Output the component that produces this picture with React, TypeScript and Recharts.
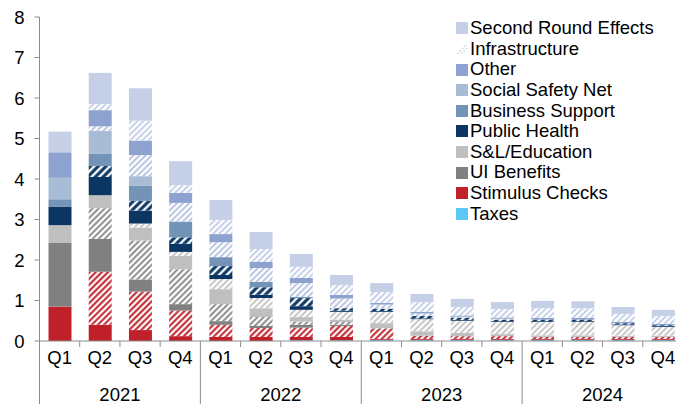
import React from 'react';
import { BarChart, Bar, XAxis, YAxis } from 'recharts';

const quarters = ['Q1', 'Q2', 'Q3', 'Q4', 'Q1', 'Q2', 'Q3', 'Q4', 'Q1', 'Q2', 'Q3', 'Q4', 'Q1', 'Q2', 'Q3', 'Q4'];
const years = ['2021', '2021', '2021', '2021', '2022', '2022', '2022', '2022', '2023', '2023', '2023', '2023', '2024', '2024', '2024', '2024'];
const yTicks = [0, 1, 2, 3, 4, 5, 6, 7, 8];

const taxes = [0, 0, 0, 0, 0, 0, 0.02, 0.02, 0.03, 0.03, 0.03, 0.03, 0.03, 0.03, 0.03, 0.03];
const stimulusChecks = [0.85, 0.4, 0.27, 0.12, 0.1, 0.1, 0.08, 0.08, 0.02, 0.02, 0.02, 0.02, 0.02, 0.02, 0.02, 0.02];
const stimulusChecksNew = [0, 1.31, 0.95, 0.63, 0.3, 0.22, 0.23, 0.27, 0.25, 0.08, 0.07, 0.07, 0.05, 0.05, 0.05, 0.05];
const uiBenefits = [1.58, 0.81, 0.3, 0.16, 0.09, 0.05, 0.07, 0.03, 0, 0, 0, 0, 0, 0, 0, 0];
const uiBenefitsNew = [0, 0.76, 0.96, 0.86, 0.42, 0.22, 0.08, 0.07, 0.02, 0, 0, 0, 0, 0, 0, 0];
const slEducation = [0.43, 0.32, 0.32, 0.33, 0.37, 0.22, 0.11, 0.06, 0.12, 0.11, 0.08, 0.05, 0.04, 0.04, 0.03, 0.03];
const slEducationNew = [0, 0, 0.1, 0.1, 0.25, 0.25, 0.18, 0.19, 0.28, 0.3, 0.3, 0.3, 0.33, 0.33, 0.26, 0.22];
const publicHealth = [0.46, 0.45, 0.32, 0.2, 0.1, 0.08, 0.09, 0.03, 0.02, 0.02, 0.02, 0.02, 0.02, 0.02, 0.02, 0.02];
const publicHealthNew = [0, 0.27, 0.24, 0.16, 0.22, 0.19, 0.2, 0.06, 0.06, 0.06, 0.06, 0.04, 0.04, 0.04, 0.03, 0.02];
const businessSupport = [0.18, 0.3, 0.37, 0.39, 0.22, 0.13, 0.03, 0, 0, 0, 0, 0, 0, 0, 0, 0];
const socialSafetyNet = [0.53, 0.57, 0.24, 0, 0, 0, 0, 0, 0, 0, 0, 0, 0, 0, 0, 0];
const socialSafetyNetNew = [0, 0.11, 0.52, 0.46, 0.37, 0.34, 0.34, 0.24, 0.1, 0.06, 0.02, 0.02, 0, 0, 0, 0];
const other = [0.63, 0.4, 0.36, 0.25, 0.2, 0.15, 0.13, 0.09, 0.04, 0.04, 0.03, 0.03, 0.04, 0.04, 0.03, 0.03];
const infrastructure = [0, 0.15, 0.49, 0.19, 0.35, 0.32, 0.27, 0.24, 0.27, 0.24, 0.21, 0.21, 0.24, 0.24, 0.2, 0.2];
const secondRound = [0.51, 0.77, 0.8, 0.59, 0.49, 0.42, 0.32, 0.25, 0.22, 0.2, 0.2, 0.17, 0.18, 0.17, 0.17, 0.15];

const rows = quarters.map((q, i) => ({
  q,
  year: years[i],
  taxes: taxes[i],
  stimulusChecks: stimulusChecks[i],
  stimulusChecksNew: stimulusChecksNew[i],
  uiBenefits: uiBenefits[i],
  uiBenefitsNew: uiBenefitsNew[i],
  slEducation: slEducation[i],
  slEducationNew: slEducationNew[i],
  publicHealth: publicHealth[i],
  publicHealthNew: publicHealthNew[i],
  businessSupport: businessSupport[i],
  socialSafetyNet: socialSafetyNet[i],
  socialSafetyNetNew: socialSafetyNetNew[i],
  other: other[i],
  infrastructure: infrastructure[i],
  secondRound: secondRound[i],
}));

const C = {
  sre: '#C5D0E6',
  other: '#8EA2CF',
  ssn: '#A9BCD5',
  bs: '#7393B7',
  ph: '#0B3562',
  sl: '#BFBFBF',
  ui: '#808080',
  checks: '#C0202A',
  taxes: '#5BC8F5',
  hatchBlue: '#A9B8DA',
};

const FONT = '"Liberation Sans", Arial, sans-serif';
const FS = 18.5;
const AXIS = '#8C8C8C';

const legendItems = [
  { name: 'Second Round Effects', color: C.sre },
  { name: 'Infrastructure', color: 'hatch' },
  { name: 'Other', color: C.other },
  { name: 'Social Safety Net', color: C.ssn },
  { name: 'Business Support', color: C.bs },
  { name: 'Public Health', color: C.ph },
  { name: 'S&L/Education', color: C.sl },
  { name: 'UI Benefits', color: C.ui },
  { name: 'Stimulus Checks', color: C.checks },
  { name: 'Taxes', color: C.taxes },
];

const QTick = (props: any) => {
  const { x, y, payload, index } = props;
  const half = (payload && payload.offset) || 20.1;
  const q = quarters[index];
  return (
    <g>
      <line x1={x - half} x2={x - half} y1={y} y2={q === 'Q1' ? y + 63 : y + 6} stroke={AXIS} strokeWidth={1} />
      {index === quarters.length - 1 && (
        <line x1={x + half} x2={x + half} y1={y} y2={y + 63} stroke={AXIS} strokeWidth={1} />
      )}
      <text x={x} y={y + 23} textAnchor="middle" fontSize={FS} fontFamily={FONT} fill="#000">
        {q}
      </text>
      {q === 'Q3' && (
        <text x={x - half} y={y + 59.5} textAnchor="middle" fontSize={FS} fontFamily={FONT} fill="#000">
          {years[index]}
        </text>
      )}
    </g>
  );
};

const YTick = (props: any) => {
  const { x, y, payload } = props;
  return (
    <text x={x} y={y} dy={6.5} textAnchor="end" fontSize={FS} fontFamily={FONT} fill="#000">
      {payload.value}
    </text>
  );
};

const hatch = (id: string, color: string, bg: string, period: number, sw: number) => (
  <pattern id={id} patternUnits="userSpaceOnUse" width={period} height={period} patternTransform="rotate(45)">
    <rect width={period} height={period} fill={bg} />
    <line x1={period / 2} y1={0} x2={period / 2} y2={period} stroke={color} strokeWidth={sw} />
  </pattern>
);

export default function App() {
  return (
    <div style={{ position: 'fixed', left: 0, top: 0, width: 676, height: 404, overflow: 'hidden', background: '#fff' }}>
      <BarChart width={690} height={404} data={rows} margin={{ top: 17, right: 7, bottom: 0, left: 0 }} barSize={23}>
        <defs>
          {hatch('hRed', C.checks, '#fff', 4.3, 2)}
          {hatch('hGrey', '#808080', '#fff', 4.3, 1.8)}
          {hatch('hLGrey', '#BFBFBF', '#fff', 4.3, 1.8)}
          {hatch('hNavy', '#fff', C.ph, 5.5, 2.4)}
          {hatch('hBlue', C.hatchBlue, '#fff', 4.3, 1.6)}
          {hatch('hBlue2', '#B9C6E2', '#fff', 4.3, 1.6)}
        </defs>
        <XAxis
          dataKey="q"
          height={63}
          interval={0}
          tickLine={false}
          tickSize={0}
          tickMargin={0}
          tick={<QTick />}
          axisLine={{ stroke: AXIS }}
        />
        <YAxis
          width={39.5}
          domain={[0, 8]}
          ticks={yTicks}
          interval={0}
          tickSize={5}
          tickMargin={10}
          tickLine={{ stroke: AXIS }}
          axisLine={{ stroke: AXIS }}
          tick={<YTick />}
        />
        <Bar dataKey="taxes" stackId="a" fill={C.taxes} isAnimationActive={false} />
        <Bar dataKey="stimulusChecks" stackId="a" fill={C.checks} isAnimationActive={false} />
        <Bar dataKey="stimulusChecksNew" stackId="a" fill="url(#hRed)" isAnimationActive={false} />
        <Bar dataKey="uiBenefits" stackId="a" fill={C.ui} isAnimationActive={false} />
        <Bar dataKey="uiBenefitsNew" stackId="a" fill="url(#hGrey)" isAnimationActive={false} />
        <Bar dataKey="slEducation" stackId="a" fill={C.sl} isAnimationActive={false} />
        <Bar dataKey="slEducationNew" stackId="a" fill="url(#hLGrey)" isAnimationActive={false} />
        <Bar dataKey="publicHealth" stackId="a" fill={C.ph} isAnimationActive={false} />
        <Bar dataKey="publicHealthNew" stackId="a" fill="url(#hNavy)" isAnimationActive={false} />
        <Bar dataKey="businessSupport" stackId="a" fill={C.bs} isAnimationActive={false} />
        <Bar dataKey="socialSafetyNet" stackId="a" fill={C.ssn} isAnimationActive={false} />
        <Bar dataKey="socialSafetyNetNew" stackId="a" fill="url(#hBlue)" isAnimationActive={false} />
        <Bar dataKey="other" stackId="a" fill={C.other} isAnimationActive={false} />
        <Bar dataKey="infrastructure" stackId="a" fill="url(#hBlue2)" isAnimationActive={false} />
        <Bar dataKey="secondRound" stackId="a" fill={C.sre} isAnimationActive={false} />
      </BarChart>
      <div style={{ position: 'absolute', left: 456, top: 18, fontFamily: FONT, fontSize: FS, color: '#000' }}>
        {legendItems.map((it) => (
          <div key={it.name} style={{ display: 'flex', alignItems: 'center', height: 20.64, lineHeight: '20.64px', whiteSpace: 'nowrap' }}>
            {it.color === 'hatch' ? (
              <svg width={12} height={12} style={{ marginRight: 2, flex: 'none' }}>
                <line x1={1} y1={11} x2={11} y2={1} stroke="#C9D2E8" strokeWidth={1.2} strokeDasharray="2 1.5" />
                <line x1={5} y1={11} x2={11} y2={5} stroke="#C9D2E8" strokeWidth={1.2} strokeDasharray="2 1.5" />
              </svg>
            ) : (
              <span style={{ display: 'inline-block', width: 12, height: 12, background: it.color, marginRight: 2, flex: 'none' }} />
            )}
            <span>{it.name}</span>
          </div>
        ))}
      </div>
    </div>
  );
}
